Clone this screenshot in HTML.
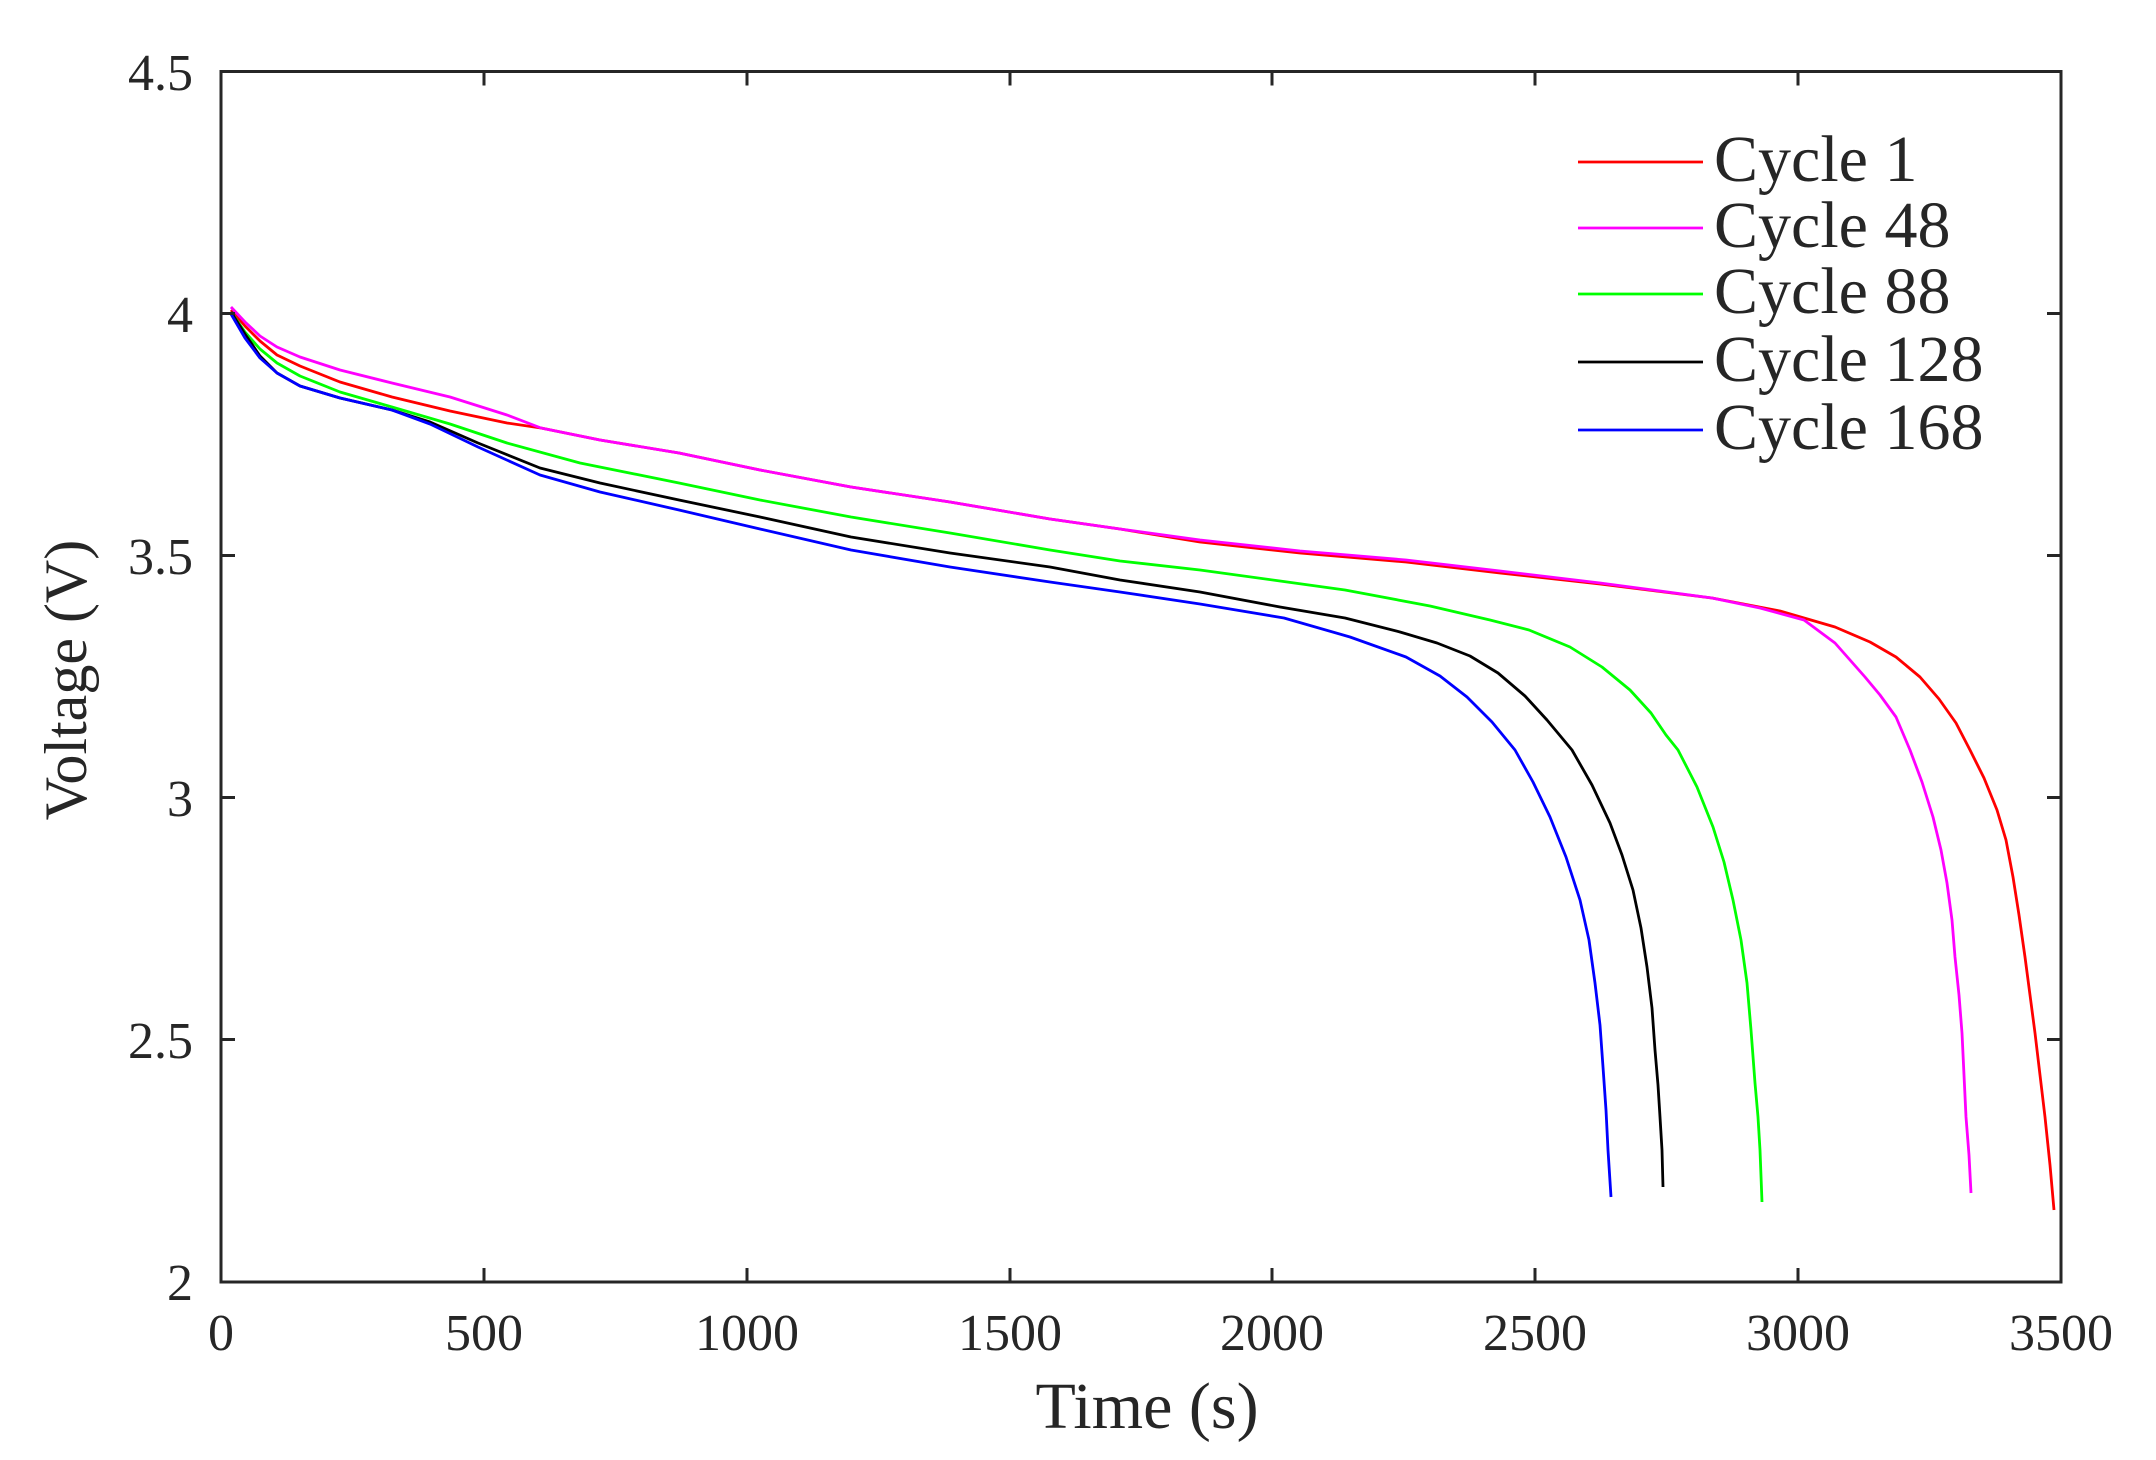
<!DOCTYPE html>
<html><head><meta charset="utf-8"><style>
html,body{margin:0;padding:0;background:#fff;}
svg{display:block;}
text{font-family:"Liberation Serif",serif;fill:#262626;}
</style></head><body>
<svg width="2156" height="1460" viewBox="0 0 2156 1460" xmlns="http://www.w3.org/2000/svg">
<rect width="2156" height="1460" fill="#fff"/>
<g fill="none" stroke-width="2.8" stroke-linejoin="round">
<polyline stroke="#ff0000" points="231,310 245,326 260,341 277,355 300,366 340,382 392,397 450,411 507,423 541,428 600,440 679,453 760,470 851,487 950,502 1050,519 1120,529 1200,542 1300,553 1406,562 1500,573 1600,584 1712,598 1780,611 1835,627 1870,642 1896,657 1920,677 1939,699 1956,723 1970,750 1984,778 1997,810 2006,840 2013,877 2019,915 2025,957 2030,995 2035,1033 2040,1075 2045,1117 2050,1165 2054,1210"/>
<polyline stroke="#ff00ff" points="231,307 245,322 260,336 277,347 300,357 340,370 392,383 450,397 507,415 541,428 600,440 679,453 760,470 851,487 950,502 1050,519 1120,529 1200,540 1300,551 1406,560 1500,571 1600,583 1712,598 1760,608 1804,620 1835,643 1865,677 1880,695 1896,717 1910,750 1922,782 1933,817 1941,850 1947,883 1952,920 1955,957 1959,995 1962,1033 1964,1075 1966,1117 1969,1155 1971,1193"/>
<polyline stroke="#00ff00" points="231,312 245,332 260,349 277,363 300,376 340,392 392,407 450,424 507,443 580,463 679,483 760,500 851,517 950,533 1050,550 1120,561 1200,570 1280,581 1345,590 1430,606 1490,620 1529,630 1570,647 1602,667 1630,690 1651,713 1666,735 1678,750 1697,787 1713,827 1724,862 1733,900 1741,940 1747,983 1751,1030 1755,1083 1758,1117 1760,1150 1762,1202"/>
<polyline stroke="#000000" points="231,312 245,334 260,356 277,373 300,386 340,398 392,410 430,422 478,443 540,468 600,483 679,500 760,517 851,537 950,553 1050,567 1120,580 1200,592 1280,607 1345,618 1400,632 1437,643 1470,656 1498,673 1525,696 1547,720 1572,750 1592,785 1610,823 1622,855 1633,890 1641,928 1647,967 1652,1008 1655,1050 1658,1085 1660,1117 1662,1150 1663,1187"/>
<polyline stroke="#0000ff" points="231,314 245,338 260,358 277,373 300,386 340,398 392,410 430,424 478,447 540,475 600,492 679,510 760,529 851,550 950,567 1050,582 1120,592 1200,604 1284,618 1350,637 1406,657 1440,676 1467,697 1492,722 1515,750 1533,782 1550,817 1566,857 1580,900 1589,940 1595,983 1600,1025 1603,1067 1606,1110 1608,1150 1611,1197"/>
</g>
<g stroke="#262626" stroke-width="3" fill="none">
<rect x="221" y="71.5" width="1840" height="1210.5"/>
<path d="M221,313.5h14M221,555.5h14M221,797.5h14M221,1039.5h14M2061,313.5h-14M2061,555.5h-14M2061,797.5h-14M2061,1039.5h-14
M484,1282v-14M747,1282v-14M1010,1282v-14M1272,1282v-14M1535,1282v-14M1798,1282v-14
M484,71.5v14M747,71.5v14M1010,71.5v14M1272,71.5v14M1535,71.5v14M1798,71.5v14"/>
</g>
<g font-size="52" text-anchor="end">
<text x="193" y="90">4.5</text>
<text x="193" y="332">4</text>
<text x="193" y="574">3.5</text>
<text x="193" y="816">3</text>
<text x="193" y="1058">2.5</text>
<text x="193" y="1300">2</text>
</g>
<g font-size="52" text-anchor="middle">
<text x="221" y="1350">0</text>
<text x="484" y="1350">500</text>
<text x="747" y="1350">1000</text>
<text x="1010" y="1350">1500</text>
<text x="1272" y="1350">2000</text>
<text x="1535" y="1350">2500</text>
<text x="1798" y="1350">3000</text>
<text x="2061" y="1350">3500</text>
</g>
<text x="1147" y="1428" font-size="66" text-anchor="middle">Time (s)</text>
<text transform="translate(86,680) rotate(-90)" font-size="60" text-anchor="middle">Voltage (V)</text>
<g stroke-width="2.8">
<line x1="1578" y1="162" x2="1703" y2="162" stroke="#ff0000"/>
<line x1="1578" y1="228" x2="1703" y2="228" stroke="#ff00ff"/>
<line x1="1578" y1="294" x2="1703" y2="294" stroke="#00ff00"/>
<line x1="1578" y1="362" x2="1703" y2="362" stroke="#000000"/>
<line x1="1578" y1="430" x2="1703" y2="430" stroke="#0000ff"/>
</g>
<g font-size="66">
<text x="1714" y="181">Cycle 1</text>
<text x="1714" y="247">Cycle 48</text>
<text x="1714" y="313">Cycle 88</text>
<text x="1714" y="381">Cycle 128</text>
<text x="1714" y="449">Cycle 168</text>
</g>
</svg>
</body></html>
